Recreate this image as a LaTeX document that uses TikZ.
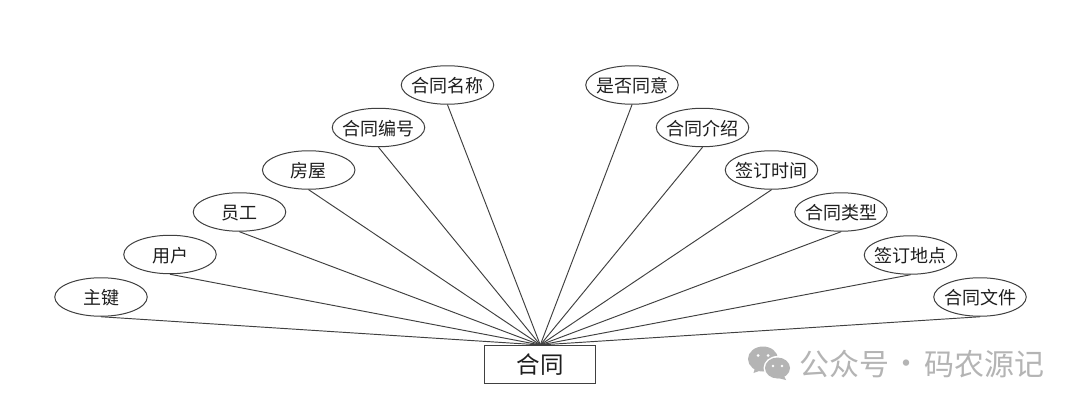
\documentclass[tikz,border=0pt]{standalone}
\usepackage{fontspec}
\setmainfont{Noto Sans CJK SC}
\usetikzlibrary{shapes.geometric}
\definecolor{inkc}{HTML}{1E1E1E}
\definecolor{edgec}{HTML}{404040}
\definecolor{wmc}{HTML}{B4B4B4}
\tikzset{
  attr/.style={ellipse,draw=edgec,line width=1pt,fill=white,minimum width=92.5pt,minimum height=38.5pt,inner sep=0pt,text=inkc,font=\fontsize{18}{20}\selectfont},
  entity/.style={rectangle,draw=edgec,line width=1pt,fill=white,minimum width=111pt,minimum height=38.5pt,inner sep=0pt,text=inkc,font=\fontsize{23.5}{26}\selectfont},
  link/.style={draw=edgec,line width=0.95pt},
  wmtext/.style={text=wmc,font=\fontsize{30}{32}\selectfont,inner sep=0pt}
}
\newcommand{\lbl}[1]{\makebox[0pt]{\raisebox{-7.5pt}[0pt][0pt]{#1}}}
\begin{document}
\begin{tikzpicture}[x=1pt,y=-1pt]
\useasboundingbox[fill=white] (0,0) rectangle (1080,407);
\node[entity] (hub) at (540.3,364.7) {合同};
\foreach \n/\px/\py/\t in {
 a/101/297/主键, b/170/254.5/用户, c/239.5/212/员工, d/308.7/170/房屋, e/378.5/127.5/合同编号, f/447.5/85/合同名称,
 g/632/85/是否同意, h/702.5/127.5/合同介绍, i/771.5/170/签订时间, j/841/212/合同类型, k/910.5/255/签订地点, l/980/297/合同文件}{
  \node[attr] (\n) at (\px,\py) {\lbl{\t}};
  \draw[link] (\n.south) -- (hub.north);
}
% watermark
\fill[wmc] (763,359) ellipse (15 and 12.5);
\fill[wmc] (755,368) -- (753.5,373) -- (762,370) -- cycle;
\fill[white] (777.5,368) ellipse (14 and 12);
\fill[wmc] (777.5,368) ellipse (12.5 and 10.5);
\fill[wmc] (784,376) -- (786,380) -- (778,378) -- cycle;
\fill[white] (758,355.5) circle (1.5) (768,355.5) circle (1.5) (773,366) circle (1.3) (782,366) circle (1.3);
\node[wmtext,anchor=west] (wma) at (799,364) {公众号};
\node[wmtext,anchor=center] (wmb) at (906,367) {·};
\node[wmtext,anchor=west] (wmd) at (924.5,364) {码农源记};
\end{tikzpicture}
\end{document}
